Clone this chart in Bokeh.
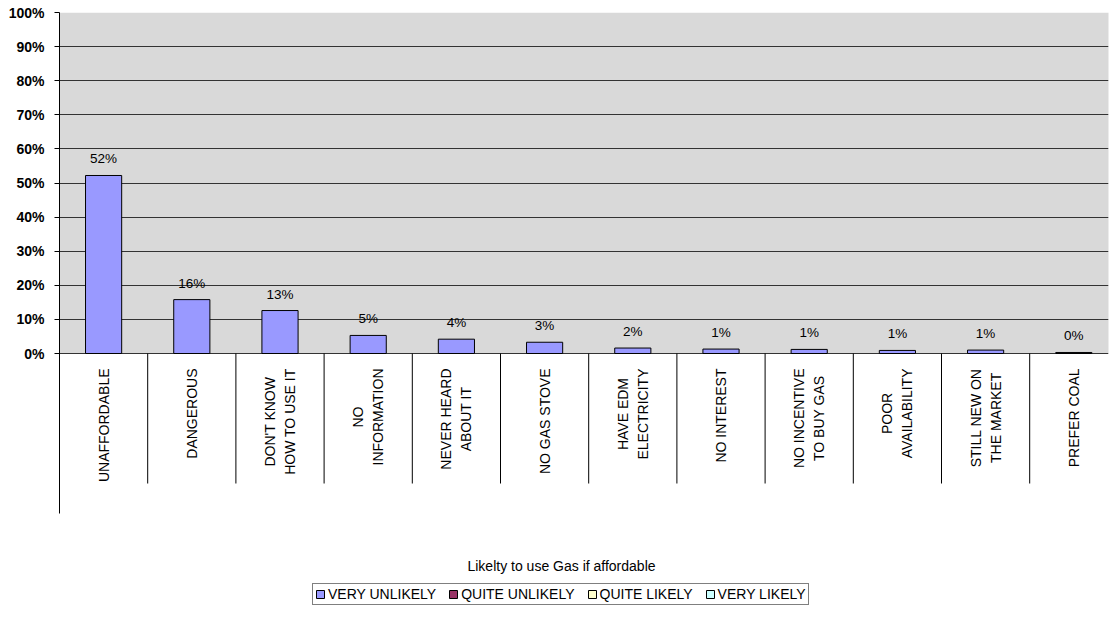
from bokeh.plotting import figure
from bokeh.models import Range1d, FixedTicker, ColumnDataSource, Legend, LegendItem
from bokeh.core.properties import value
from bokeh.embed import file_html
from bokeh.resources import INLINE
import math

categories = ["UNAFFORDABLE", "DANGEROUS", "DON'T KNOW\nHOW TO USE IT", "NO\nINFORMATION",
              "NEVER HEARD\nABOUT IT", "NO GAS STOVE", "HAVE EDM\nELECTRICITY", "NO INTEREST",
              "NO INCENTIVE\nTO BUY GAS", "POOR\nAVAILABILITY", "STILL NEW ON\nTHE MARKET", "PREFER COAL"]
very_unlikely = [52.2, 15.8, 12.6, 5.3, 4.2, 3.3, 1.6, 1.3, 1.2, 0.9, 1.0, 0.3]
nan = float("nan")
quite_unlikely = [nan] * 12   # no values shown in the chart
quite_likely = [nan] * 12
very_likely = [nan] * 12
series_names = ["VERY UNLIKELY", "QUITE UNLIKELY", "QUITE LIKELY", "VERY LIKELY"]
series_colors = ["#9999FF", "#993366", "#FFFFCC", "#CCFFFF"]
y_ticks = [0, 10, 20, 30, 40, 50, 60, 70, 80, 90, 100]
y_tick_labels = [f"{t}%" for t in y_ticks]
x_title = "Likelty to use Gas if affordable"

FONT = "Liberation Sans"
W, H = 1109, 635
left, top = 59, 12
cat_px = 88.2            # pixel width of a category
frame_w = W - 1 - left
frame_h = H - top
px_per_unit = 3.41
y_start = 100 - frame_h / px_per_unit
n = len(categories)

p = figure(width=W, height=H, output_backend="svg", toolbar_location=None,
           x_range=Range1d(0, frame_w / cat_px), y_range=Range1d(y_start, 100),
           x_axis_location=None, min_border_left=left, min_border_right=1,
           min_border_top=top, min_border_bottom=0, background_fill_color="white",
           border_fill_color="white", outline_line_color=None)

# plot area background
p.quad(left=[0], right=[n], bottom=[0], top=[100], fill_color="#d9d9d9",
       line_color=None, level="image")

# y axis
p.yaxis.ticker = FixedTicker(ticks=y_ticks)
p.yaxis.major_label_overrides = {t: l for t, l in zip(y_ticks, y_tick_labels)}
p.yaxis.bounds = ((353 - 513) / px_per_unit, 100)
p.yaxis.axis_line_color = "black"
p.yaxis.major_tick_line_color = "black"
p.yaxis.major_tick_in = 0
p.yaxis.major_tick_out = 5
p.yaxis.minor_tick_line_color = None
p.yaxis.major_label_standoff = 10
p.yaxis.major_label_text_font = FONT
p.yaxis.major_label_text_font_style = "bold"
p.yaxis.major_label_text_font_size = "14px"
p.yaxis.major_label_text_color = "black"

p.xgrid.visible = False
p.ygrid.grid_line_color = "#333333"
p.ygrid.grid_line_width = 1

centers = [i + 0.5 for i in range(n)]
src = ColumnDataSource(dict(x=centers, vu=very_unlikely, qu=quite_unlikely,
                            ql=quite_likely, vl=very_likely,
                            lab=[f"{v:.0f}%" for v in very_unlikely],
                            cat=categories))

renderers = []
for col, c in zip(["vu", "qu", "ql", "vl"], series_colors):
    r = p.vbar(x="x", top=col, bottom=0, width=0.41, source=src,
               fill_color=c, line_color="black", line_width=1)
    renderers.append(r)

# value labels
p.text(x="x", y="vu", text="lab", source=src, text_align="center",
       text_baseline="bottom", y_offset=-9, text_font=value(FONT),
       text_font_size="13.5px", text_color="black")

# category separators
sep_bottom = (353 - 483) / px_per_unit
p.segment(x0=list(range(1, n)), x1=list(range(1, n)), y0=0, y1=sep_bottom,
          line_color="black", line_width=1)

# category labels (rotated, lines centred, block hanging from the axis)
p.text(x="x", y=0, text="cat", source=src, angle=math.pi / 2,
       text_align="center", text_baseline="middle", anchor="center_right",
       y_offset=15, text_font=value(FONT), text_font_size="14px",
       text_color="black", text_line_height=1.25)

# axis title
p.text(x=[(561 - left) / cat_px], y=[(353 - 565) / px_per_unit], text=[x_title],
       text_align="center", text_baseline="middle", text_font=value(FONT),
       text_font_size="14px", text_color="black")

legend = Legend(items=[LegendItem(label=nm, renderers=[r])
                       for nm, r in zip(series_names, renderers)],
                orientation="horizontal", location=(253, 30),
                glyph_width=10, glyph_height=10, label_standoff=3, spacing=12,
                padding=2, label_height=13, margin=0,
                label_text_font=FONT, label_text_font_size="14px",
                label_text_color="black", border_line_color="black",
                border_line_width=1, background_fill_color="white",
                background_fill_alpha=1)
p.add_layout(legend)

open("out.html", "w").write(file_html(p, INLINE))
